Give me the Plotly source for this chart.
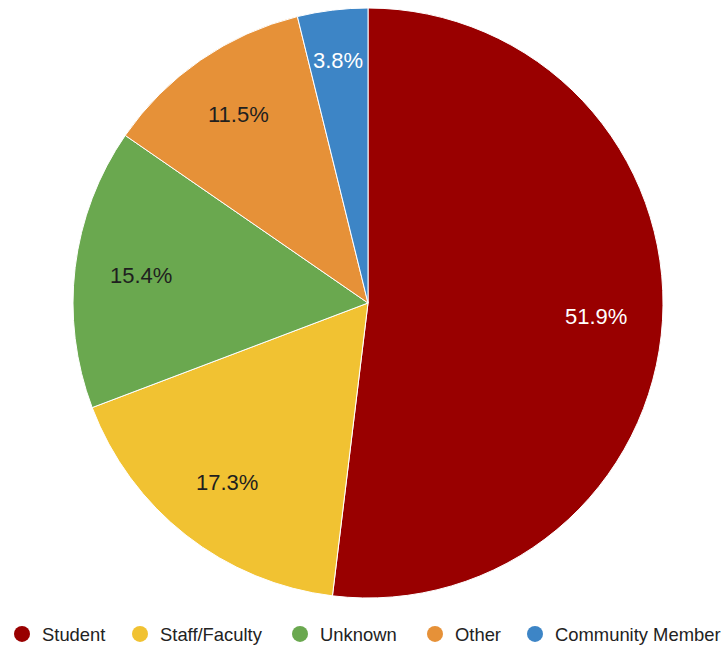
import math
import plotly.graph_objects as go

categories = ["Student", "Staff/Faculty", "Unknown", "Other", "Community Member"]
counts = [27, 9, 8, 6, 2]
colors = ["#990000", "#f1c232", "#6aa84f", "#e69138", "#3d85c6"]
label_colors = ["#ffffff", "#1f1f1f", "#1f1f1f", "#1f1f1f", "#ffffff"]

FONT = "Arial, Liberation Sans, sans-serif"
W, H = 727, 647
M_T, M_B = 8, 49
PIE_D = H - M_T - M_B            # pie diameter in px (plot height)
PIE_CX = 368                      # pie centre x in px
dom_x = [(PIE_CX - PIE_D / 2) / W, (PIE_CX + PIE_D / 2) / W]

fig = go.Figure()
fig.add_trace(go.Pie(
    labels=categories,
    values=counts,
    sort=False,
    direction="clockwise",
    rotation=0,
    domain=dict(x=dom_x, y=[0, 1]),
    marker=dict(colors=colors, line=dict(color="#ffffff", width=1)),
    textinfo="none",
    showlegend=False,
    hoverinfo="label+value+percent",
))

# percentage labels on each slice's mid-angle; narrow slices push the label
# outward until the slice is wide enough to hold it
total = sum(counts)
cum = 0
R_PX = PIE_D / 2
LABEL_R = 0.775
MIN_CHORD = 59
cx = (dom_x[0] + dom_x[1]) / 2
cy = 0.5
for v, col in zip(counts, label_colors):
    half = math.pi * v / total
    theta = 2 * math.pi * (cum + v / 2) / total
    cum += v
    r = max(LABEL_R * R_PX, MIN_CHORD / (2 * math.sin(half)))
    r = min(r, 0.9 * R_PX)
    fig.add_annotation(
        x=cx + r * math.sin(theta) / W,
        y=cy + r * math.cos(theta) / PIE_D,
        xref="paper", yref="paper",
        text=f"{100 * v / total:.1f}%",
        showarrow=False,
        font=dict(family=FONT, size=22, color=col),
        xanchor="center", yanchor="middle",
    )

legend_x_px = [22, 140, 300, 435, 535]   # legend circle centres
legend_names = ["legend", "legend2", "legend3", "legend4", "legend5"]
layout_legends = {}
for name, col, lg, px in zip(categories, colors, legend_names, legend_x_px):
    fig.add_trace(go.Scatter(
        x=[None], y=[None], mode="markers", name=name,
        marker=dict(symbol="circle", size=16, color=col),
        showlegend=True, legend=lg,
    ))
    layout_legends[lg] = dict(
        orientation="h",
        xref="container", yref="container",
        x=(px - 20) / W, xanchor="left",
        y=(H - 634) / H, yanchor="middle",
        font=dict(family=FONT, size=18.4, color="#222222"),
        itemsizing="trace",
        bgcolor="rgba(0,0,0,0)",
    )

fig.update_layout(
    width=W, height=H,
    margin=dict(l=0, r=0, t=M_T, b=M_B),
    paper_bgcolor="#ffffff",
    plot_bgcolor="#ffffff",
    xaxis=dict(visible=False),
    yaxis=dict(visible=False),
    **layout_legends,
)

fig.write_html("out.html")
